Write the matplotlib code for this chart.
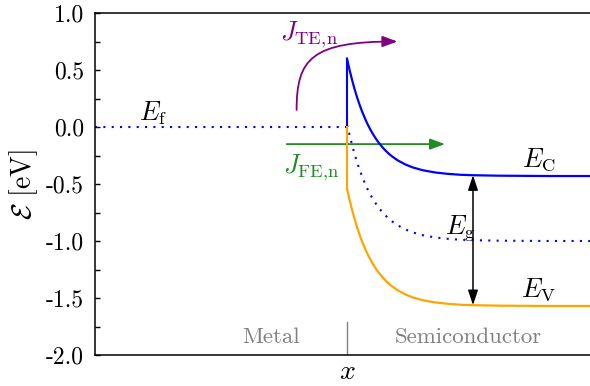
import numpy as np
import matplotlib
matplotlib.use("Agg")
import matplotlib.pyplot as plt
from matplotlib.patches import FancyArrowPatch
from matplotlib.path import Path

plt.rcParams['font.family'] = 'serif'
plt.rcParams['font.serif'] = ['cmr10']
plt.rcParams['mathtext.fontset'] = 'cm'
plt.rcParams['axes.unicode_minus'] = False
plt.rcParams['axes.formatter.use_mathtext'] = True

# position in the semiconductor (interface at x = 0)
x_sc = [0.00, 0.01, 0.02, 0.03, 0.04, 0.05, 0.06, 0.07, 0.08, 0.09, 0.10,
        0.11, 0.12, 0.13, 0.14, 0.15, 0.16, 0.17, 0.18, 0.19, 0.20,
        0.23, 0.26, 0.30, 0.35, 0.40, 0.45, 0.50, 0.60, 0.80, 1.00]
# conduction band edge
E_c = [0.600, 0.502, 0.414, 0.333, 0.260, 0.195, 0.135, 0.082, 0.032, -0.011, -0.051,
       -0.087, -0.120, -0.149, -0.176, -0.200, -0.222, -0.242, -0.260, -0.275, -0.291,
       -0.327, -0.354, -0.379, -0.399, -0.411, -0.419, -0.423, -0.427, -0.430, -0.430]
# valence band edge
E_v = [-0.540, -0.638, -0.726, -0.807, -0.880, -0.945, -1.005, -1.058, -1.108, -1.151, -1.191,
       -1.227, -1.260, -1.289, -1.316, -1.340, -1.362, -1.382, -1.400, -1.415, -1.431,
       -1.467, -1.494, -1.519, -1.539, -1.551, -1.559, -1.563, -1.567, -1.570, -1.570]
# intrinsic level
E_i = [0.020, -0.068, -0.156, -0.237, -0.310, -0.375, -0.435, -0.488, -0.538, -0.581, -0.621,
       -0.657, -0.690, -0.719, -0.746, -0.770, -0.792, -0.812, -0.830, -0.845, -0.861,
       -0.897, -0.924, -0.949, -0.969, -0.981, -0.989, -0.993, -0.997, -1.000, -1.000]
# Fermi level in the metal
x_m = [-1.0, 0.0]
E_f = [0.0, 0.0]

fig = plt.figure(figsize=(5.9, 3.86), dpi=100)
ax = fig.add_axes([95/590, 31/386, 504/590, 342/386])

dots = (0, (1, 3))
ax.plot(x_m, E_f, color='blue', lw=1.5, ls=dots)
ax.plot(x_sc, E_i, color='blue', lw=1.5, ls=dots)
ax.plot([0, 0], [E_f[1], E_c[0]], color='blue', lw=1.5)
ax.plot([0, 0], [E_f[1], E_v[0]], color='orange', lw=1.5)
ax.plot(x_sc, E_c, color='blue', lw=1.6)
ax.plot(x_sc, E_v, color='orange', lw=1.6)

# field emission (tunnelling) current
ax.add_patch(FancyArrowPatch((-0.25, -0.15), (0.40, -0.15),
                             arrowstyle='-|>,head_length=0.6,head_width=0.22',
                             mutation_scale=15, color='forestgreen', lw=1.3))
# thermionic emission over the barrier
te_path = Path([(-0.20, 0.15), (-0.20, 0.60), (-0.14, 0.75), (0.20, 0.75)],
               [Path.MOVETO, Path.CURVE4, Path.CURVE4, Path.CURVE4])
ax.add_patch(FancyArrowPatch(path=te_path,
                             arrowstyle='-|>,head_length=0.6,head_width=0.22',
                             mutation_scale=15, color='purple', lw=1.3))
# band gap
i_g = x_sc.index(0.50)
ax.add_patch(FancyArrowPatch((0.5, E_c[i_g]), (0.5, E_v[i_g]),
                             arrowstyle='<|-|>,head_length=0.6,head_width=0.2',
                             mutation_scale=15, color='black', lw=1.1,
                             shrinkA=0, shrinkB=0))

fs = 19
ax.text(-0.77, 0.12, r'$E_\mathrm{f}$', fontsize=fs, ha='center', va='center')
ax.text(-0.15, 0.81, r'$J_\mathrm{TE,\!n}$', fontsize=fs, ha='center', va='center', color='purple')
ax.text(-0.14, -0.36, r'$J_\mathrm{FE,\!n}$', fontsize=fs, ha='center', va='center', color='forestgreen')
ax.text(0.76, -0.29, r'$E_\mathrm{C}$', fontsize=fs, ha='center', va='center')
ax.text(0.45, -0.89, r'$E_\mathrm{g}$', fontsize=fs, ha='center', va='center')
ax.text(0.76, -1.43, r'$E_\mathrm{V}$', fontsize=fs, ha='center', va='center')

ax.axvline(0, ymin=0, ymax=0.29/3, color='gray', lw=1)
ax.text(-0.30, -1.84, 'Metal', fontsize=16.5, color='gray', ha='center', va='center')
ax.text(0.48, -1.84, 'Semiconductor', fontsize=16.5, color='gray', ha='center', va='center')

ax.set_xlim(-1, 1)
ax.set_ylim(-2, 1)
ax.set_xticks([])
ax.set_yticks(np.arange(-2.0, 1.01, 0.5))
ax.set_yticks(np.arange(-1.75, 1.0, 0.5), minor=True)
ax.set_yticklabels(['%.1f' % v for v in np.arange(-2.0, 1.01, 0.5)])
ax.tick_params(axis='y', which='both', direction='in', length=3.5, width=1,
               labelsize=17, pad=8)
for s in ax.spines.values():
    s.set_linewidth(1.1)
ax.set_xlabel(r'$x$', fontsize=20, labelpad=3)
ax.set_ylabel(r'$\mathcal{E}$ [eV]', fontsize=20, labelpad=4)

fig.savefig('out.png', dpi=100)
